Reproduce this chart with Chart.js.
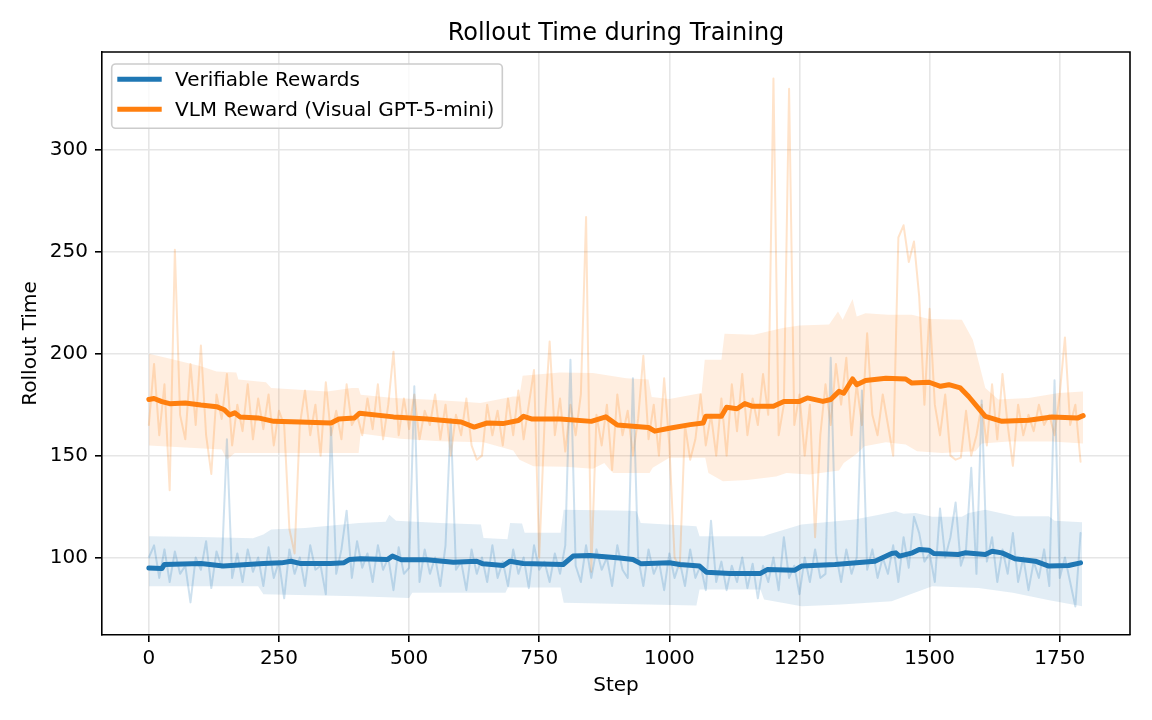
<!DOCTYPE html>
<html>
<head>
<meta charset="utf-8">
<title>Rollout Time during Training</title>
<script src="https://cdn.jsdelivr.net/npm/chart.js@4.4.1/dist/chart.umd.min.js"></script>
<style>
    html, body { margin: 0; padding: 0; background: #fff; }
    #rolloutChart { display: block; }
</style>
</head>
<body>
<canvas id="rolloutChart" width="1152" height="720"></canvas>
<script>
// Raw rollout time, one value every 10 steps (0 .. 1790)
const RAW_STEP_INTERVAL = 10;

const verifiableRaw = [
    100, 106, 90, 104, 88, 103, 92, 96, 78, 100,
    94, 108, 85, 103, 95, 158, 90, 102, 88, 104,
    93, 100, 86, 105, 90, 98, 80, 104, 92, 100,
    86, 106, 94, 96, 82, 164, 92, 104, 123, 90,
    108, 95, 102, 88, 106, 94, 100, 84, 105, 92,
    95, 184, 88, 104, 92, 100, 86, 106, 168, 94,
    98, 84, 104, 92, 100, 88, 106, 90, 98, 86,
    104, 92, 100, 85, 106, 94, 98, 88, 102, 92,
    106, 197, 96, 88, 106, 90, 104, 94, 100, 86,
    106, 94, 90, 188, 100, 86, 104, 92, 98, 84,
    102, 90, 98, 86, 104, 90, 96, 84, 118, 88,
    98, 84, 96, 88, 100, 85, 97, 80, 96, 88,
    100, 84, 110, 90, 96, 82, 100, 88, 104, 90,
    92, 198, 102, 88, 104, 92, 100, 182, 94, 104,
    90, 100, 92, 106, 88, 110, 95, 120, 112, 98,
    102, 88, 124, 100, 110, 127, 96, 104, 144, 92,
    177, 98, 110, 88, 104, 92, 112, 88, 100, 84,
    98, 90, 104, 86, 187, 90, 100, 88, 76, 112
];

const vlmRaw = [
    165, 195, 160, 185, 133, 251, 170, 158, 195, 165,
    204, 160, 141, 180, 168, 190, 155, 175, 162, 185,
    158, 178, 163, 180, 155, 172, 165, 114, 102, 165,
    182, 160, 175, 150, 186, 160, 172, 158, 185, 165,
    170, 160, 178, 163, 185, 158, 175, 201, 160, 178,
    163, 180, 158, 172, 165, 180, 158, 175, 150, 170,
    160, 178, 155, 148, 150, 175, 160, 172, 155, 178,
    160, 182, 158, 175, 192, 100, 165, 206, 160, 178,
    152, 175, 160, 180, 267, 93, 170, 155, 175, 143,
    180, 160, 172, 150, 168, 199, 158, 175, 150, 188,
    155, 100, 95, 165, 148, 158, 180, 155, 170, 150,
    178, 150, 185, 162, 190, 160, 178, 165, 190, 170,
    335, 160, 175, 330, 165, 180, 150, 175, 110, 160,
    185, 165, 195, 175, 198, 160, 185, 165, 210, 170,
    160, 180, 165, 150, 257, 263, 245, 255, 228, 175,
    222, 175, 160, 180, 150, 148, 149, 172, 150, 160,
    175, 155, 185, 158, 190, 165, 145, 175, 160, 170,
    162, 175, 165, 170, 160, 180, 208, 165, 175, 147
];

// Smoothed curves and spread bands, [step, value]
const verifiableMean = [
    [0, 94.9], [25, 94.6], [30, 96.6], [100, 97.1], [143, 95.8], [220, 97.1], [255, 97.4],
    [273, 98.2], [290, 97.1], [349, 97.1], [375, 97.5], [385, 99], [407, 99.4], [458, 99],
    [468, 100.7], [485, 98.9], [534, 98.9], [585, 97.7], [630, 98.2], [642, 96.9], [681, 96.1],
    [694, 98.2], [719, 97.1], [796, 96.6], [815, 100.7], [847, 101], [905, 99.8], [930, 99],
    [946, 96.9], [1000, 97.4], [1020, 96.6], [1058, 95.8], [1071, 92.8], [1117, 92.2],
    [1175, 92.2], [1188, 94.1], [1241, 93.8], [1254, 95.8], [1318, 96.6], [1395, 98.2],
    [1427, 102], [1435, 102.3], [1442, 100.7], [1467, 102.3], [1480, 103.9], [1499, 103.6],
    [1508, 102], [1555, 101.5], [1568, 102.3], [1607, 101.5], [1620, 103.1], [1639, 102.3],
    [1664, 99.4], [1703, 98.2], [1729, 95.8], [1767, 96.1], [1790, 97.4]
];

const verifiableUpper = [
    [0, 110.5], [100, 110.1], [200, 109.5], [220, 111.3], [235, 113.7], [300, 114.5], [404, 117],
    [455, 117.5], [462, 121], [475, 118], [560, 117], [638, 116.2], [643, 109.6], [689, 109],
    [694, 117], [717, 116.7], [722, 112.1], [791, 112.1], [797, 123.5], [924, 123], [937, 122.7],
    [945, 117], [1052, 115.4], [1058, 110.5], [1181, 110.5], [1190, 111.3], [1254, 116.2],
    [1356, 118.6], [1403, 121], [1435, 122.7], [1450, 121.5], [1473, 121.9], [1505, 120],
    [1562, 120], [1575, 121.9], [1607, 123.5], [1664, 120.3], [1729, 120.3], [1740, 118],
    [1793, 117.3]
];

const verifiableLower = [
    [0, 85.9], [210, 85.9], [220, 82], [400, 81], [500, 80.2], [506, 82.7], [685, 82.7],
    [690, 85.3], [791, 85.3], [797, 77.8], [1052, 76.5], [1058, 84.3], [1175, 84.3],
    [1182, 79.4], [1254, 76.1], [1330, 77], [1427, 78.6], [1505, 85.9], [1594, 85.1],
    [1660, 82.7], [1730, 79], [1793, 76.1]
];

const vlmMean = [
    [0, 177.5], [10, 178], [25, 176.5], [40, 175.5], [70, 175.8], [100, 174.8], [130, 174],
    [145, 172.5], [155, 170], [165, 171], [175, 169], [210, 168.5], [240, 166.8], [290, 166.5],
    [350, 166], [365, 168], [395, 168.5], [405, 170.8], [470, 169], [535, 168], [600, 166.5],
    [625, 164], [650, 166], [680, 165.7], [710, 167.2], [720, 169.3], [735, 168], [790, 168],
    [850, 166.8], [878, 169], [900, 165], [960, 163.8], [972, 162], [1000, 163.4], [1040, 165.2],
    [1065, 166], [1070, 169.3], [1100, 169.3], [1110, 173.7], [1130, 173], [1145, 175.5],
    [1160, 174.2], [1200, 174.2], [1220, 176.6], [1250, 176.6], [1265, 178.3], [1295, 176.6],
    [1310, 177.5], [1326, 181.5], [1335, 180.6], [1352, 187.6], [1360, 184.8], [1377, 186.9],
    [1416, 188], [1454, 187.6], [1466, 185.6], [1499, 186], [1521, 184], [1537, 184.8],
    [1559, 183.2], [1575, 179], [1607, 169.3], [1639, 166.8], [1690, 167.3], [1735, 168.9],
    [1785, 168.5], [1795, 169.6]
];

const vlmUpper = [
    [0, 200], [35, 197.9], [100, 193.9], [130, 191.3], [168, 190.8], [172, 187.3], [225, 186],
    [235, 183.2], [343, 181.5], [390, 183.2], [403, 183.2], [407, 179.9], [470, 178.3],
    [534, 177.5], [598, 176.6], [637, 175.8], [700, 179], [712, 179], [718, 189.2], [790, 190.8],
    [853, 190.5], [917, 188], [960, 187.3], [966, 178.7], [1000, 177.8], [1062, 180.7],
    [1068, 197], [1100, 197], [1106, 209.8], [1162, 209.3], [1218, 212.6], [1250, 213.8],
    [1307, 214.3], [1324, 220.7], [1333, 216.6], [1352, 226.8], [1360, 218.3], [1377, 219.9],
    [1420, 219.1], [1466, 219.1], [1499, 217], [1562, 216.6], [1583, 206.9], [1594, 196.2],
    [1607, 183.2], [1632, 177.5], [1690, 178.3], [1748, 180.7], [1795, 181.5]
];

const vlmLower = [
    [0, 155], [140, 153], [150, 148], [165, 151.3], [403, 151.3], [407, 160.8], [483, 158.3],
    [560, 157], [643, 156.5], [700, 152.5], [712, 148], [739, 144.8], [800, 144.5], [853, 143.5],
    [875, 146.4], [886, 143], [892, 141.5], [962, 141.5], [968, 144], [1000, 148.9], [1069, 148.9],
    [1075, 141.5], [1103, 137.4], [1150, 138], [1205, 139.8], [1225, 141.5], [1269, 140.7],
    [1326, 142.7], [1335, 146.4], [1358, 150.5], [1375, 154.6], [1416, 156.5], [1454, 155.4],
    [1476, 152.1], [1524, 151.3], [1588, 152.1], [1600, 155.9], [1652, 156.9], [1735, 156.9],
    [1795, 156]
];

const xTicks = [0, 250, 500, 750, 1000, 1250, 1500, 1750];
const yTicks = [100, 150, 200, 250, 300];

const BLUE = '#1f77b4';
const ORANGE = '#ff7f0e';
const FONT_FAMILY = '"DejaVu Sans", "Liberation Sans", sans-serif';

class RolloutTimeChart {
    constructor(canvasId) {
        this.canvas = document.getElementById(canvasId);
        this.chart = null;
    }

    init() {
        Chart.defaults.font.family = FONT_FAMILY;
        Chart.defaults.color = '#000';
        this.chart = new Chart(this.canvas, this.buildConfig());
    }

    toPoints(pairs) {
        return pairs.map(([x, y]) => ({ x, y }));
    }

    rawPoints(values) {
        return values.map((y, i) => ({ x: i * RAW_STEP_INTERVAL, y }));
    }

    withAlpha(hex, alpha) {
        const n = parseInt(hex.slice(1), 16);
        return `rgba(${(n >> 16) & 255}, ${(n >> 8) & 255}, ${n & 255}, ${alpha})`;
    }

    bandDatasets(upper, lower, color) {
        const common = {
            pointRadius: 0,
            borderWidth: 0,
            borderColor: 'rgba(0,0,0,0)',
            tension: 0,
            order: 3
        };
        return [
            { ...common, label: '', data: this.toPoints(upper), fill: false },
            { ...common, label: '', data: this.toPoints(lower), fill: '-1',
              backgroundColor: this.withAlpha(color, 0.13) }
        ];
    }

    buildDatasets() {
        return [
            ...this.bandDatasets(vlmUpper, vlmLower, ORANGE),
            ...this.bandDatasets(verifiableUpper, verifiableLower, BLUE),
            {
                label: '',
                data: this.rawPoints(verifiableRaw),
                borderColor: this.withAlpha(BLUE, 0.22),
                borderWidth: 2,
                pointRadius: 0,
                fill: false,
                order: 2
            },
            {
                label: '',
                data: this.rawPoints(vlmRaw),
                borderColor: this.withAlpha(ORANGE, 0.22),
                borderWidth: 2,
                pointRadius: 0,
                fill: false,
                order: 2
            },
            {
                label: 'Verifiable Rewards',
                inLegend: true,
                data: this.toPoints(verifiableMean),
                borderColor: BLUE,
                borderWidth: 5,
                pointRadius: 0,
                fill: false,
                order: 1
            },
            {
                label: 'VLM Reward (Visual GPT-5-mini)',
                inLegend: true,
                data: this.toPoints(vlmMean),
                borderColor: ORANGE,
                borderWidth: 5,
                pointRadius: 0,
                fill: false,
                order: 1
            }
        ];
    }

    axisGrid() {
        return {
            color: '#e6e6e6',
            lineWidth: 1.6,
            tickColor: '#000',
            tickWidth: 1.6,
            tickLength: 7
        };
    }

    buildConfig() {
        const tickFont = { family: FONT_FAMILY, size: 20 };
        return {
            type: 'line',
            data: { datasets: this.buildDatasets() },
            options: {
                responsive: false,
                animation: false,
                devicePixelRatio: 1,
                layout: { padding: { left: 0, right: 22, top: 52, bottom: 0 } },
                plugins: {
                    legend: { display: false },
                    tooltip: { enabled: false },
                    title: { display: false }
                },
                elements: { line: { tension: 0, borderJoinStyle: 'round', borderCapStyle: 'round' } },
                scales: {
                    x: {
                        type: 'linear',
                        min: -90,
                        max: 1885,
                        afterBuildTicks: scale => { scale.ticks = xTicks.map(value => ({ value })); },
                        afterFit: scale => { scale.height = 85; },
                        ticks: { font: tickFont, color: '#000', padding: 5, callback: v => String(v) },
                        grid: this.axisGrid(),
                        border: { display: true, color: '#000', width: 1.6 },
                        title: {
                            display: true,
                            text: 'Step',
                            font: tickFont,
                            color: '#000',
                            padding: { top: 0, bottom: 22 }
                        }
                    },
                    y: {
                        type: 'linear',
                        min: 62,
                        max: 348,
                        afterBuildTicks: scale => { scale.ticks = yTicks.map(value => ({ value })); },
                        afterFit: scale => { scale.width = 102; },
                        ticks: { font: tickFont, color: '#000', padding: 7, callback: v => String(v) },
                        grid: this.axisGrid(),
                        border: { display: true, color: '#000', width: 1.6 },
                        title: {
                            display: true,
                            text: 'Rollout Time',
                            font: tickFont,
                            color: '#000',
                            padding: { top: 19, bottom: 0 }
                        }
                    }
                }
            },
            plugins: [this.framePlugin(), this.titlePlugin(), this.legendPlugin()]
        };
    }

    // top and right spines
    framePlugin() {
        return {
            id: 'frame',
            afterDatasetsDraw(chart) {
                const { ctx, chartArea: a } = chart;
                ctx.save();
                ctx.strokeStyle = '#000';
                ctx.lineWidth = 1.6;
                ctx.beginPath();
                ctx.moveTo(a.left, a.top);
                ctx.lineTo(a.right, a.top);
                ctx.lineTo(a.right, a.bottom);
                ctx.stroke();
                ctx.restore();
            }
        };
    }

    titlePlugin() {
        return {
            id: 'plotTitle',
            afterDraw(chart) {
                const { ctx, chartArea: a } = chart;
                ctx.save();
                ctx.font = `24px ${FONT_FAMILY}`;
                ctx.fillStyle = '#000';
                ctx.textAlign = 'center';
                ctx.textBaseline = 'alphabetic';
                ctx.fillText('Rollout Time during Training', (a.left + a.right) / 2, 40);
                ctx.restore();
            }
        };
    }

    // matplotlib-like legend in the upper left corner of the plot
    legendPlugin() {
        return {
            id: 'innerLegend',
            afterDraw(chart) {
                const { ctx, chartArea: a } = chart;
                const entries = chart.data.datasets.filter(d => d.inLegend);
                ctx.save();
                ctx.font = `20px ${FONT_FAMILY}`;
                const textW = Math.max(...entries.map(e => ctx.measureText(e.label).width));
                const x0 = a.left + 9.7;
                const y0 = a.top + 12;
                const w = 63.3 + textW + 8;
                const h = 64.3;

                ctx.beginPath();
                if (ctx.roundRect) ctx.roundRect(x0, y0, w, h, 4);
                else ctx.rect(x0, y0, w, h);
                ctx.fillStyle = 'rgba(255,255,255,0.8)';
                ctx.fill();
                ctx.strokeStyle = '#cccccc';
                ctx.lineWidth = 1.6;
                ctx.stroke();

                entries.forEach((e, i) => {
                    const cy = y0 + 15.3 + i * 30;
                    ctx.beginPath();
                    ctx.moveTo(x0 + 5.6, cy);
                    ctx.lineTo(x0 + 50, cy);
                    ctx.strokeStyle = e.borderColor;
                    ctx.lineWidth = 5;
                    ctx.stroke();
                    ctx.fillStyle = '#000';
                    ctx.textBaseline = 'middle';
                    ctx.fillText(e.label, x0 + 63.3, cy + 1);
                });
                ctx.restore();
            }
        };
    }
}

const rolloutChart = new RolloutTimeChart('rolloutChart');
rolloutChart.init();
</script>
</body>
</html>
